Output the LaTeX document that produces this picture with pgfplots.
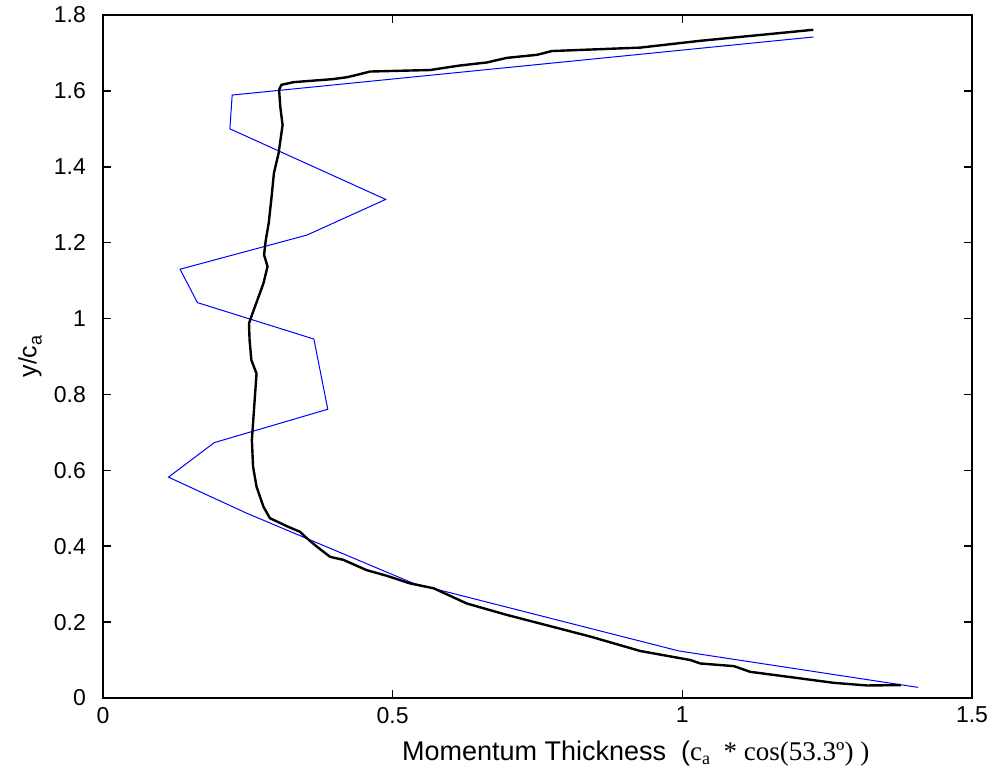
\documentclass[border=0pt]{standalone}
\usepackage{fontspec}
\setmainfont{Liberation Sans}
\newfontfamily\tnr{Liberation Serif}
\usepackage{pgfplots}
\pgfplotsset{compat=1.18}
\usetikzlibrary{calc}

\begin{document}
\begin{tikzpicture}
\begin{axis}[
    scale only axis, width=434.5pt, height=341.5pt,
    xmin=0, xmax=1.5, ymin=0, ymax=1.8,
    xtick={0,0.5,1,1.5},
    ytick={0,0.2,0.4,0.6,0.8,1,1.2,1.4,1.6,1.8},
    tick align=inside, major tick length=4pt,
    axis line style={line width=0.9pt},
    tick style={line width=0.8pt, black},
    /pgf/number format/assume math mode=true,
    ticklabel style={font=\fontsize{11.5}{13}\selectfont},
    yticklabel style={xshift=-5pt},
    xticklabel style={yshift=-1pt},
    xlabel={Momentum Thickness \ ({\tnr c\raisebox{-0.35ex}{\fontsize{9}{10}\selectfont a}\ \ * cos(53.3º)\ )}},
    xlabel style={at={(axis description cs:0.613,-0.081)}, anchor=center, font=\fontsize{13.5}{15}\selectfont},
    ylabel={y/c\raisebox{-0.4ex}{\fontsize{9}{10}\selectfont a}},
    ylabel style={at={(axis description cs:-0.084,0.5)}, anchor=center, font=\fontsize{12.5}{14}\selectfont},
]
\coordinate (bl) at (rel axis cs:0,0);
\coordinate (tr) at (rel axis cs:1,1);
% blue profile
\addplot[blue, line width=0.5pt] coordinates {
    (1.226,1.742) (0.223,1.589) (0.219,1.500) (0.488,1.314) (0.352,1.220)
    (0.133,1.130) (0.163,1.042) (0.364,0.946) (0.388,0.761) (0.192,0.673)
    (0.113,0.582) (0.248,0.487) (0.536,0.302) (0.994,0.124) (1.407,0.028)
};
% black profile
\addplot[black, line width=1.2pt] coordinates {
    (1.226,1.761) (1.031,1.732) (0.927,1.714) (0.775,1.705) (0.749,1.695)
    (0.697,1.687) (0.663,1.675) (0.617,1.667) (0.599,1.663) (0.565,1.655)
    (0.461,1.651) (0.438,1.642) (0.421,1.636) (0.397,1.631) (0.329,1.623)
    (0.308,1.616) (0.304,1.603) (0.306,1.558) (0.310,1.510) (0.303,1.435)
    (0.295,1.383) (0.291,1.321) (0.286,1.251) (0.281,1.207) (0.278,1.168)
    (0.284,1.137) (0.277,1.093) (0.257,1.009) (0.252,0.987) (0.253,0.944)
    (0.256,0.891) (0.265,0.855) (0.261,0.768) (0.257,0.680) (0.259,0.610)
    (0.265,0.557) (0.277,0.504) (0.288,0.474) (0.317,0.453) (0.340,0.438)
    (0.349,0.425) (0.369,0.399) (0.392,0.372) (0.415,0.364) (0.455,0.337)
    (0.490,0.322) (0.530,0.302) (0.571,0.289) (0.628,0.249) (0.697,0.219)
    (0.841,0.162) (0.927,0.124) (1.014,0.100) (1.031,0.091) (1.089,0.084)
    (1.117,0.069) (1.192,0.054) (1.261,0.040) (1.319,0.033) (1.377,0.034)
};
\end{axis}
\pgfresetboundingbox
\path[use as bounding box] ($(bl)+(-51.5pt,-38.5pt)$) rectangle ($(tr)+(10.5pt,7.5pt)$);
\end{tikzpicture}
\end{document}
